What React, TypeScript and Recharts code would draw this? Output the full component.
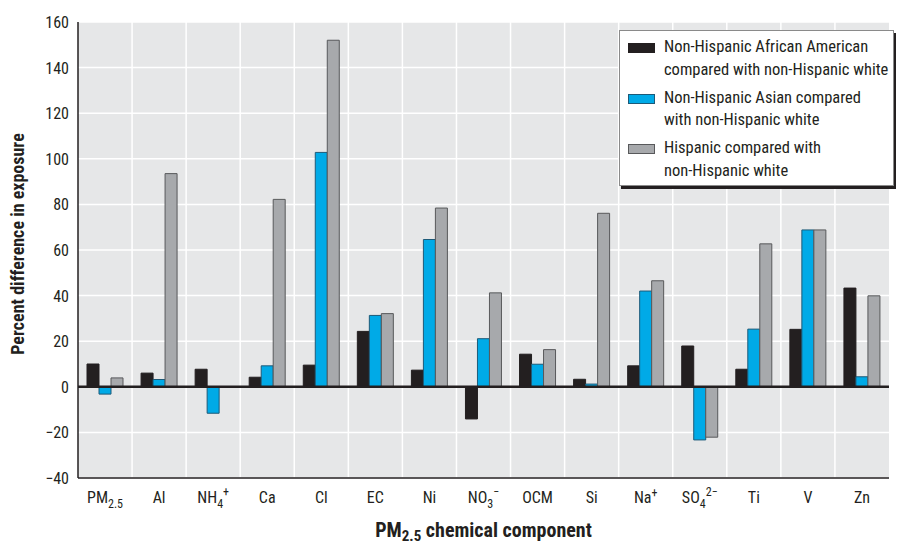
import React from "react";
import {
  BarChart,
  Bar,
  XAxis,
  YAxis,
  CartesianGrid,
  ReferenceLine,
  Legend,
} from "recharts";

const categories = ["PM2.5", "Al", "NH4+", "Ca", "Cl", "EC", "Ni", "NO3-", "OCM", "Si", "Na+", "SO42-", "Ti", "V", "Zn"];
const tickBase = ["PM", "Al", "NH", "Ca", "Cl", "EC", "Ni", "NO", "OCM", "Si", "Na", "SO", "Ti", "V", "Zn"];
const tickSub = ["2.5", "", "4", "", "", "", "", "3", "", "", "", "4", "", "", ""];
const tickSup = ["", "", "+", "", "", "", "", "\u2212", "", "", "+", "2\u2212", "", "", ""];

const africanAmerican = [10, 6, 7.7, 4.2, 9.5, 24.3, 7.3, -14.1, 14.3, 3.3, 9.2, 17.9, 7.7, 25.2, 43.3];
const asian = [-3.2, 3.2, -11.6, 9.2, 102.8, 31.3, 64.6, 21.1, 9.9, 1.2, 42.0, -23.3, 25.3, 68.8, 4.4];
const hispanic = [3.9, 93.5, null, 82.2, 152, 32.1, 78.4, 41.2, 16.3, 76.1, 46.5, -22.1, 62.7, 68.8, 39.9];

const yTicks = [-40, -20, 0, 20, 40, 60, 80, 100, 120, 140, 160];

const seriesNames = [
  ["Non-Hispanic African American", "compared with non-Hispanic white"],
  ["Non-Hispanic Asian compared", "with non-Hispanic white"],
  ["Hispanic compared with", "non-Hispanic white"],
];

const data = categories.map((c, i) => ({
  name: c,
  aa: africanAmerican[i],
  as: asian[i],
  hi: hispanic[i],
}));

const FONT = "Roboto, sans-serif";
const COND: any = { fontStretch: "condensed" };
const TEXT = "#231f20";
const colors = ["#231f20", "#00aae7", "#a7a9ac"];
const strokes = ["#231f20", "#1d5a78", "#58595b"];

const XTick = (props: any) => {
  const { x, y, payload } = props;
  const i = payload.index;
  return (
    <text x={x} y={y + 17} textAnchor="middle" fontSize={16} fill={TEXT} fontFamily={FONT} style={COND}>
      <tspan>{tickBase[i]}</tspan>
      {tickSub[i] ? <tspan dy={5} fontSize={12}>{tickSub[i]}</tspan> : null}
      {tickSup[i] ? (
        <tspan dy={tickSub[i] ? -12 : -6} fontSize={12}>
          {tickSup[i]}
        </tspan>
      ) : null}
    </text>
  );
};

const YTick = (props: any) => {
  const { x, y, payload } = props;
  const v = payload.value;
  const s = v < 0 ? "\u2212" + Math.abs(v) : String(v);
  return (
    <text x={x - 1} y={y + 6} textAnchor="end" fontSize={16} fill={TEXT} fontFamily={FONT} style={COND}>
      {s}
    </text>
  );
};

const LegendBox = () => (
  <div
    style={{
      width: 275,
      height: 156,
      background: "#fff",
      border: "1px solid #8a8a8a",
      boxShadow: "2px 3px 0 #231f20",
      fontFamily: FONT,
      fontStretch: "condensed",
      fontSize: 16.5,
      color: TEXT,
      boxSizing: "border-box",
      padding: "5px 0 0 8px",
      textAlign: "left",
    }}
  >
    {seriesNames.map((lines, k) => (
      <div key={k} style={{ display: "flex", alignItems: "flex-start", marginBottom: 5.5 }}>
        <div
          style={{
            width: 27,
            height: 10,
            marginTop: 7,
            background: colors[k],
            border: `1px solid ${strokes[k]}`,
            boxSizing: "border-box",
            flex: "none",
          }}
        />
        <div style={{ marginLeft: 9, lineHeight: "22.5px", whiteSpace: "nowrap" }}>
          {lines.map((l, j) => (
            <div key={j}>{l}</div>
          ))}
        </div>
      </div>
    ))}
  </div>
);

const YLabel = (props: any) => {
  const { viewBox } = props;
  const cy = viewBox.y + viewBox.height / 2 - 6;
  return (
    <text
      x={19}
      y={cy}
      transform={`rotate(-90, 19, ${cy})`}
      textAnchor="middle"
      dominantBaseline="middle"
      fontSize={18}
      fontWeight="bold"
      fill={TEXT}
      fontFamily={FONT}
      style={COND}
    >
      Percent difference in exposure
    </text>
  );
};

const XLabel = (props: any) => {
  const { viewBox } = props;
  const cx = viewBox.x + viewBox.width / 2;
  return (
    <text x={cx} y={537} textAnchor="middle" fontSize={20} fontWeight="bold" fill={TEXT} fontFamily={FONT} style={COND}>
      <tspan>PM</tspan>
      <tspan dy={4} fontSize={15}>2.5</tspan>
      <tspan dy={-4}> chemical component</tspan>
    </text>
  );
};

export default function App() {
  return (
    <div style={{ position: "absolute", left: 0, top: 0, width: 898, height: 548, background: "#fff" }}>
      <BarChart
        width={898}
        height={548}
        data={data}
        margin={{ top: 22, right: 9, bottom: 0, left: 0 }}
        barGap={0}
        barSize={12}
      >
        <CartesianGrid
          fill="#e6e7e8"
          stroke="#ffffff"
          strokeWidth={1.5}
          horizontalValues={yTicks}
          verticalCoordinatesGenerator={(p: any) => {
            const { offset } = p;
            const out: number[] = [];
            for (let i = 1; i < categories.length; i++) {
              out.push(offset.left + (offset.width * i) / categories.length);
            }
            return out;
          }}
        />
        <XAxis
          dataKey="name"
          axisLine={{ stroke: TEXT, strokeWidth: 1.5 }}
          tickLine={false}
          tick={<XTick />}
          interval={0}
          height={70}
          label={<XLabel />}
        />
        <YAxis
          domain={[-40, 160]}
          ticks={yTicks}
          width={78}
          axisLine={{ stroke: TEXT, strokeWidth: 1.5 }}
          tickLine={false}
          tick={<YTick />}
          label={<YLabel />}
          allowDataOverflow
        />
        <Legend
          layout="horizontal"
          verticalAlign="middle"
          align="center"
          content={<LegendBox />}
          wrapperStyle={{ position: "absolute", left: 619, top: 30, width: 275, height: 156 }}
        />
        <Bar dataKey="aa" name={seriesNames[0].join(" ")} fill={colors[0]} stroke={strokes[0]} strokeWidth={1} isAnimationActive={false} />
        <Bar dataKey="as" name={seriesNames[1].join(" ")} fill={colors[1]} stroke={strokes[1]} strokeWidth={1} isAnimationActive={false} />
        <Bar dataKey="hi" name={seriesNames[2].join(" ")} fill={colors[2]} stroke={strokes[2]} strokeWidth={1} isAnimationActive={false} />
        <ReferenceLine y={0} stroke={TEXT} strokeWidth={2.5} />
      </BarChart>
    </div>
  );
}
